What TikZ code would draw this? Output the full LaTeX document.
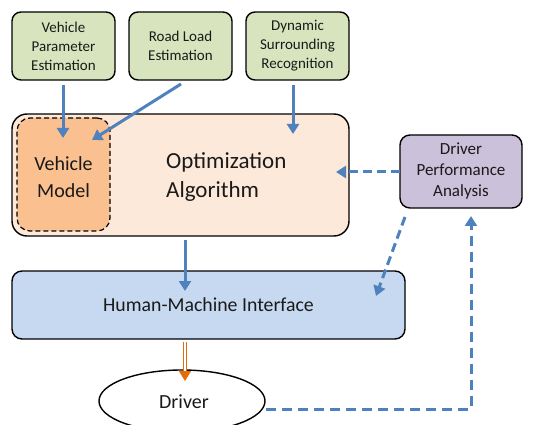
\documentclass[tikz,border=0pt]{standalone}
\usepackage{fontspec}
\setmainfont{Carlito}
\usetikzlibrary{arrows.meta,shapes.geometric}
\definecolor{boxgreen}{HTML}{D7E4BD}
\definecolor{optfill}{HTML}{FDE9D9}
\definecolor{vmfill}{HTML}{FAC090}
\definecolor{dpafill}{HTML}{CCC1DA}
\definecolor{hmifill}{HTML}{C6D9F1}
\definecolor{arrblue}{HTML}{4F81BD}
\definecolor{arrorange}{HTML}{E46C0A}
\definecolor{txt}{HTML}{1A1A1A}
\tikzset{
  inbox/.style={draw=black, line width=1.4pt, rounded corners=9pt, fill=boxgreen, minimum width=103pt, minimum height=68pt, align=center, text=txt, font=\fontsize{15}{19}\selectfont, inner sep=0pt},
  blarrow/.style={draw=arrblue, line width=3pt, -{Triangle[length=10pt,width=12pt]}},
  bldash/.style={draw=arrblue, line width=3pt, dash pattern=on 9pt off 5pt, -{Triangle[length=10pt,width=12pt]}},
}
\begin{document}
\begin{tikzpicture}[x=1pt,y=-1pt]
\useasboundingbox (0,0) rectangle (544,425);
% top input boxes
\node[inbox] (vpe) at (63.5,46) {Vehicle\\Parameter\\Estimation};
\node[inbox] (rle) at (180.5,46) {Road Load\\Estimation};
\node[inbox] (dsr) at (297.5,46) {Dynamic\\Surrounding\\Recognition};
% optimization
\node[draw=black, line width=1.4pt, rounded corners=15pt, fill=optfill, minimum width=337pt, minimum height=122pt, inner sep=0pt] (opt) at (180.5,175) {};
\node[draw=black, line width=1.2pt, dashed, dash pattern=on 5pt off 3pt, rounded corners=13pt, fill=vmfill, minimum width=93pt, minimum height=113pt, inner sep=0pt] (vm) at (63.5,174.5) {};
\node[align=center, text=txt, font=\fontsize{20}{27}\selectfont] (vmt) at (63.5,177) {Vehicle\\Model};
\node[align=left, text=txt, font=\fontsize{23}{29}\selectfont, anchor=west, inner sep=0pt] (optt) at (166,177.5) {Optimization\\Algorithm};
% DPA
\node[draw=black, line width=1.4pt, rounded corners=10pt, fill=dpafill, minimum width=122pt, minimum height=73pt, align=center, text=txt, font=\fontsize{17}{21}\selectfont, inner sep=0pt] (dpa) at (461,171.5) {Driver\\Performance\\Analysis};
% HMI
\node[draw=black, line width=1.4pt, rounded corners=10pt, fill=hmifill, minimum width=393pt, minimum height=68pt, text=txt, font=\fontsize{19.8}{22}\selectfont, inner sep=0pt] (hmi) at (208.5,305) {Human-Machine Interface};
% Driver
\node[draw=black, line width=1.4pt, ellipse, fill=white, minimum width=166pt, minimum height=62pt, text=txt, font=\fontsize{20}{22}\selectfont, inner sep=0pt] (drv) at (182,401) {};
\node[text=txt, font=\fontsize{20}{22}\selectfont] (drvt) at (184,402) {Driver};
% coordinates
\coordinate (a1s) at (63,85); \coordinate (a1e) at (63,138);
\coordinate (a2s) at (181,84); \coordinate (a2e) at (92,140);
\coordinate (a3s) at (293,85); \coordinate (a3e) at (293,134);
\coordinate (a4s) at (185,240); \coordinate (a4e) at (185,291);
\coordinate (a5s) at (400,172); \coordinate (a5e) at (336,172);
\coordinate (a6s) at (405,217); \coordinate (a6e) at (376,296);
\coordinate (a7s) at (185,342); \coordinate (a7e) at (185,381);
\coordinate (fbc) at (471,409);
\coordinate (fbe) at (471,216);
% arrows
\draw[blarrow] (a1s) -- (a1e);
\draw[blarrow] (a2s) -- (a2e);
\draw[blarrow] (a3s) -- (a3e);
\draw[blarrow] (a4s) -- (a4e);
\draw[bldash] (a5s) -- (a5e);
\draw[bldash] (a6s) -- (a6e);
\draw[arrorange, line width=1.1pt, double distance=1.8pt, -{Triangle[length=10pt,width=12pt]}] (a7s) -- (a7e);
\draw[bldash, dash pattern=on 10pt off 6pt] (drv.east |- fbc) -- (fbc) -- (fbe);
\end{tikzpicture}
\end{document}
